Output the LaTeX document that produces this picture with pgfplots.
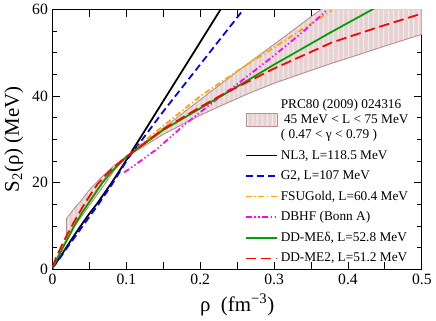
\documentclass[border=0pt]{standalone}
\usepackage{fontspec}
\setmainfont{Liberation Serif}
\usepackage{pgfplots}
\pgfplotsset{compat=1.18}
\usetikzlibrary{patterns.meta}
\definecolor{bandline}{HTML}{BC8F8F}
\definecolor{bandfill}{HTML}{E6D2D2}
\definecolor{g2c}{HTML}{0000FF}
\definecolor{fsuc}{HTML}{FFA500}
\definecolor{dbhfc}{HTML}{FF00FF}
\definecolor{dmdc}{HTML}{00A000}
\definecolor{me2c}{HTML}{FF0000}
\pgfplotsset{
  longline/.style={legend image code/.code={\draw[##1] (0pt,0pt) -- (24pt,0pt);}},
  bandbox/.style={legend image code/.code={\draw[##1] (0pt,-5pt) rectangle (24pt,5pt);}},
  curve/.style={line width=1.35pt},
}

\begin{document}
\begin{tikzpicture}
\begin{axis}[
  scale only axis, width=283pt, height=199pt,
  xmin=0, xmax=0.5, ymin=0, ymax=60,
  xtick={0,0.05,0.1,0.15,0.2,0.25,0.3,0.35,0.4,0.45,0.5},
  xticklabels={0,,0.1,,0.2,,0.3,,0.4,,0.5},
  ytick={0,20,40,60}, minor ytick={5,10,15,25,30,35,45,50,55},
  tick align=inside, major tick length=6pt, minor tick length=3.5pt,
  every tick/.style={black, line width=0.7pt},
  axis line style={line width=0.8pt},
  /pgf/number format/assume math mode=true,
  tick label style={font=\fontsize{12}{14}\selectfont},
  label style={font=\fontsize{16}{18}\selectfont},
  xlabel={ρ\ \ (fm\textsuperscript{−3})},
  ylabel={S\textsubscript{2}(ρ) (MeV)},
  legend cell align=left,
  legend style={at={(0.51,0.0)}, anchor=south west, draw=none, fill=none,
    font=\fontsize{10.2}{11.5}\selectfont, row sep=3.3pt, cells={align=left}},
  longline,
]
% band: upper edge forward, lower edge back
\addplot[draw=bandline, line width=0.5pt, fill=bandfill,
  postaction={pattern={Lines[angle=90,distance=4pt,line width=0.6pt]}, pattern color=white},
  bandbox]
  coordinates {(0.019,11.7) (0.03,14.2) (0.039,15.9) (0.05,18.4) (0.07,21.9) (0.085,24.2)
  (0.1,26.1) (0.15,32.6) (0.2,39.2) (0.25,45.7) (0.3,52.0) (0.363,60) (0.4,64.5) (0.5,76)
  (0.5,54.3) (0.45,51.6) (0.4,48.8) (0.376,47.5) (0.3,43.0) (0.265,40.6) (0.228,37.8)
  (0.2,35.6) (0.15,31.2) (0.1,26.0) (0.085,23.2) (0.07,19.5) (0.05,14.8) (0.03,10.0) (0.019,7.0)} -- cycle;
\addlegendentry{PRC80 (2009) 024316\\ \ 45 MeV < L < 75 MeV\\ ( 0.47 < γ < 0.79 )}

\addplot[curve, black] coordinates {(0,0.3) (0.01,2.8) (0.02,5.4) (0.03,8.0) (0.038,10) (0.05,12.9)
  (0.06,15.1) (0.08,20.0) (0.09,22.6) (0.103,26.1) (0.12,30.7) (0.15,38.9) (0.193,50.6) (0.231,61)};
\addlegendentry{NL3, L=118.5 MeV}

\addplot[curve, color=g2c, dash pattern=on 5.5pt off 3pt] coordinates {(0,0.3) (0.01,2.6) (0.02,5.1) (0.03,7.4)
  (0.04,9.8) (0.06,14.5) (0.08,19.5) (0.103,25.8) (0.15,36.5) (0.215,50.6) (0.239,55.8) (0.262,60.8)};
\addlegendentry{G2, L=107 MeV}

\addplot[curve, color=fsuc, dash pattern=on 4.5pt off 2pt on 1pt off 2pt] coordinates {(0,0.3) (0.005,2.2)
  (0.01,4.0) (0.02,7.2) (0.03,10.3) (0.05,15.9) (0.07,20.6) (0.085,23.4) (0.1,25.9) (0.13,30.4)
  (0.2,40.0) (0.265,47.5) (0.3,51.3) (0.378,59.8)};
\addlegendentry{FSUGold, L=60.4 MeV}

\addplot[curve, color=dbhfc, dash pattern=on 4.5pt off 2pt on 1pt off 2pt on 1pt off 2pt] coordinates {
  (0.097,22.4) (0.11,23.9) (0.13,26.4) (0.14,27.6) (0.18,33.6) (0.227,39.9) (0.254,43.3)
  (0.3,49.4) (0.34,55.0) (0.372,60)};
\addlegendentry{DBHF (Bonn A)}

\addplot[curve, color=dmdc] coordinates {(0,0.3) (0.005,2.0) (0.01,3.7) (0.02,6.9) (0.03,10.2) (0.04,13.1)
  (0.05,15.6) (0.067,19.9) (0.08,22.6) (0.1,26.0) (0.15,32.2) (0.204,37.6) (0.228,40.0)
  (0.3,47.3) (0.374,54.5) (0.44,60.7)};
\addlegendentry{DD-MEδ, L=52.8 MeV}

\addplot[curve, color=me2c, dash pattern=on 8pt off 3.5pt] coordinates {(0,0.5) (0.005,2.8) (0.01,4.6)
  (0.02,8.1) (0.03,11.2) (0.04,14.2) (0.05,16.9) (0.061,19.7) (0.07,21.4) (0.08,23.1) (0.1,26.0)
  (0.15,32.4) (0.2,37.5) (0.228,40.2) (0.3,46.4) (0.378,52.4) (0.44,55.9) (0.5,59.1)};
\addlegendentry{DD-ME2, L=51.2 MeV}
\end{axis}
\end{tikzpicture}
\end{document}
